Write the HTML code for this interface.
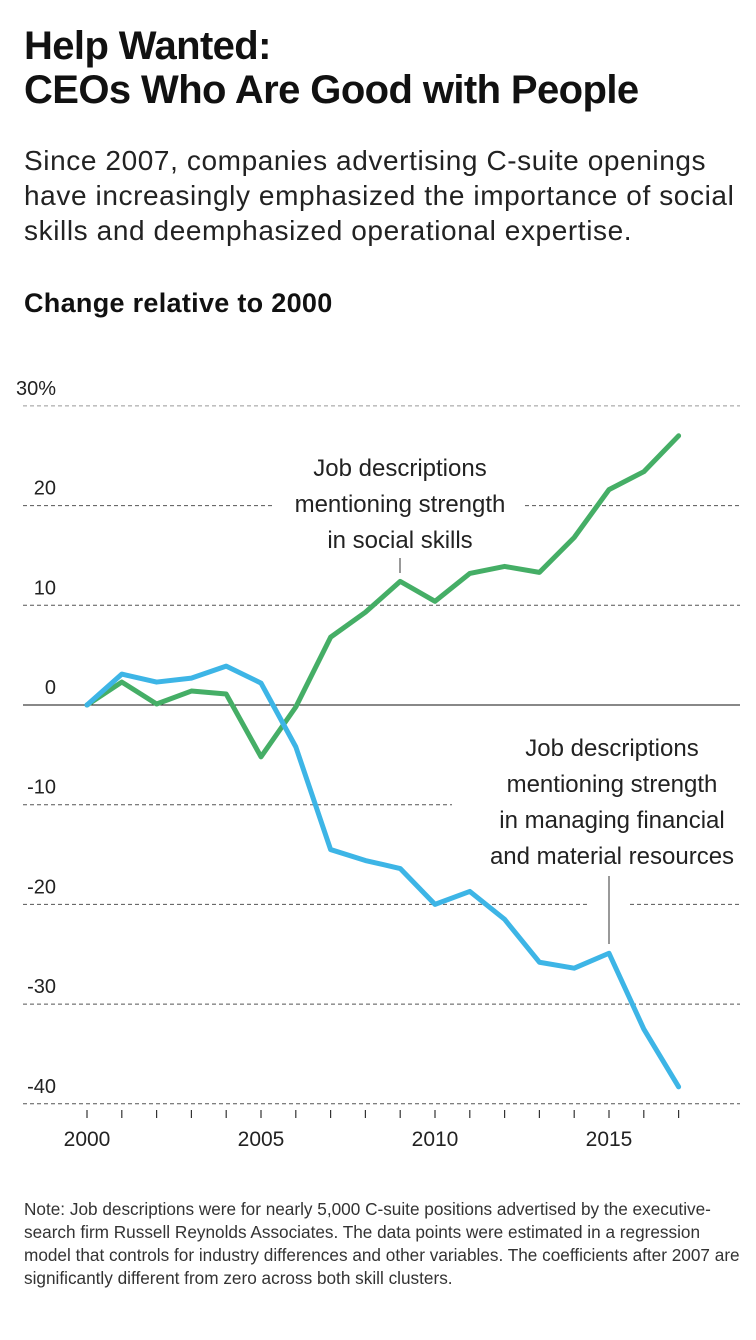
<!DOCTYPE html>
<html><head><meta charset="utf-8"><style>
body{margin:0;width:756px;height:1340px;background:#fff;font-family:"Liberation Sans",sans-serif;color:#111;overflow:hidden}
h1{position:absolute;left:24px;top:24px;margin:0;font-size:40px;line-height:44px;font-weight:bold;letter-spacing:-0.6px;white-space:nowrap}
.sub{position:absolute;left:24px;top:143px;font-size:28px;line-height:35px;color:#222;width:725px;letter-spacing:0.6px}
.ytitle{position:absolute;left:24px;top:288px;font-size:27px;font-weight:bold;letter-spacing:0.3px}
.note{position:absolute;left:24px;top:1198px;font-size:17.2px;line-height:23px;color:#333;width:722px}
svg{position:absolute;left:0;top:0}
</style></head><body>
<h1>Help Wanted:<br>CEOs Who Are Good with People</h1>
<div class="sub">Since 2007, companies advertising C-suite openings have increasingly emphasized the importance of social skills and deemphasized operational expertise.</div>
<div class="ytitle">Change relative to 2000</div>
<svg id="chart" width="756" height="1340"></svg>
<div class="note">Note: Job descriptions were for nearly 5,000 C-suite positions advertised by the executive-search firm Russell Reynolds Associates. The data points were estimated in a regression model that controls for industry differences and other variables. The coefficients after 2007 are significantly different from zero across both skill clusters.</div>
<script>
const years=[2000,2001,2002,2003,2004,2005,2006,2007,2008,2009,2010,2011,2012,2013,2014,2015,2016,2017];
const social=[0,2.3,0.1,1.4,1.1,-5.2,-0.2,6.8,9.3,12.4,10.4,13.2,13.9,13.3,16.8,21.6,23.4,27.0];
const financial=[0,3.1,2.3,2.7,3.9,2.2,-4.2,-14.5,-15.6,-16.4,-20.0,-18.7,-21.5,-25.8,-26.4,-24.9,-32.5,-38.3];
const yTicks=[30,20,10,0,-10,-20,-30,-40];
const yLabels=["30%","20","10","0","-10","-20","-30","-40"];
const xLabelYears=[2000,2005,2010,2015];
const NS="http://www.w3.org/2000/svg";
const svg=document.getElementById('chart');
const x=yr=>87+(yr-2000)*34.8;
const y=v=>705-v*9.97;
function mk(t,a){const e=document.createElementNS(NS,t);for(const k in a)e.setAttribute(k,a[k]);svg.appendChild(e);return e;}
const gaps={20:[[275,525]],"-10":[[452,760]],"-20":[[588,630]]};
yTicks.forEach((v,i)=>{
  let segs=[[23,740]];
  if(gaps[v]){segs=[];let s=23;gaps[v].forEach(g=>{segs.push([s,g[0]]);s=g[1];});if(s<740)segs.push([s,740]);}
  segs.forEach(sg=>{
    const l=mk('line',{x1:sg[0],x2:sg[1],y1:y(v),y2:y(v),stroke:v===0?'#111':(v===30?'#999':'#555'),'stroke-width':1,'stroke-dasharray':v===0?'none':'4 3'});
    
    
  });
  const t=mk('text',{x:56,y:y(v)-11,'font-size':20,'text-anchor':'end',fill:'#222'});
  t.textContent=yLabels[i];
  
  
});
years.forEach(yr=>{
  const tk=mk('line',{x1:x(yr),x2:x(yr),y1:1110,y2:1118,stroke:'#333','stroke-width':1.2});
  
  
});
xLabelYears.forEach(yr=>{
  const t=mk('text',{x:x(yr),y:1146,'font-size':21,'text-anchor':'middle',fill:'#222'});
  t.textContent=yr;
  
  
});
function line(vals,color,name){
  const p=mk('polyline',{points:vals.map((v,i)=>x(years[i])+','+y(v)).join(' '),fill:'none',stroke:color,'stroke-width':5,'stroke-linejoin':'round','stroke-linecap':'round'});
  
  
}
line(social,'#45ae66','series-social-skills');
line(financial,'#3db5e6','series-financial-resources');
function ann(lines,cx,top,name){
  lines.forEach((s,i)=>{const t=mk('text',{x:cx,y:top+i*36,'font-size':24,'text-anchor':'middle',fill:'#222'});t.textContent=s;
  
  });
}
ann(["Job descriptions","mentioning strength","in social skills"],400,476,'annotation-social');
mk('line',{x1:400,x2:400,y1:558,y2:573,stroke:'#333','stroke-width':1});
ann(["Job descriptions","mentioning strength","in managing financial","and material resources"],612,756,'annotation-financial');
mk('line',{x1:609,x2:609,y1:876,y2:944,stroke:'#333','stroke-width':1});
</script>
</body></html>
